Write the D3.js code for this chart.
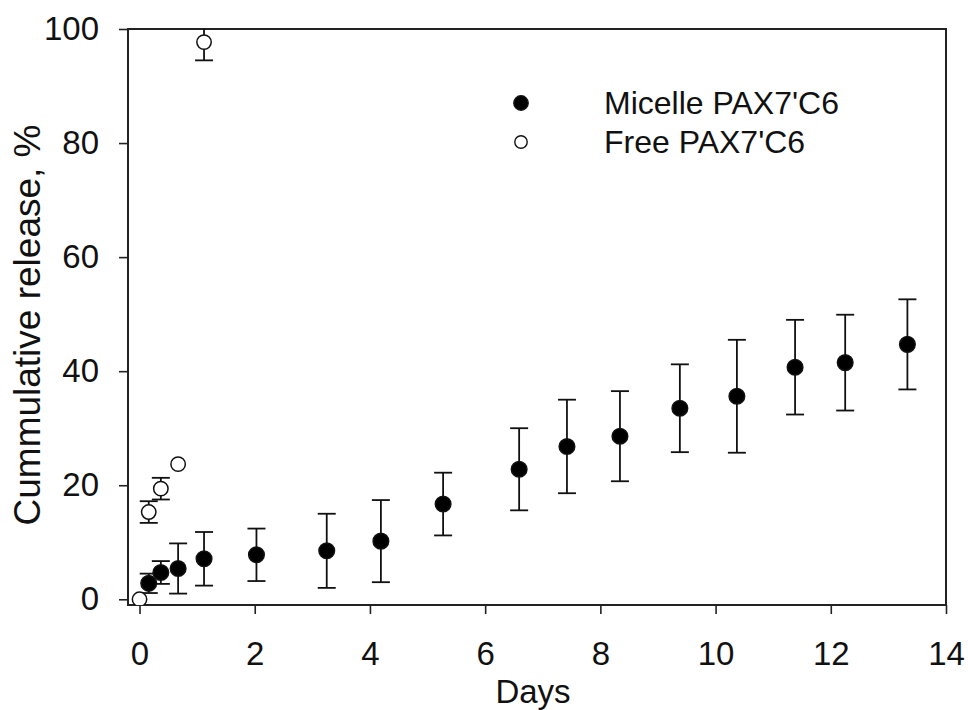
<!DOCTYPE html>
<html>
<head>
<meta charset="utf-8">
<script src="https://cdn.jsdelivr.net/npm/d3@7"></script>
<style>
  body { margin: 0; background: #fff; }
  text { font-family: "Liberation Sans", Arial, sans-serif; fill: #111; }
</style>
</head>
<body>
<svg id="chart" width="968" height="710"></svg>
<script>
// Micelle PAX7'C6 (filled)
const micelleDays = [0.16, 0.37, 0.67, 1.12, 2.03, 3.25, 4.19, 5.27, 6.59, 7.42, 8.34, 9.38, 10.37, 11.38, 12.25, 13.33];
const micelleRelease = [2.8, 4.7, 5.4, 7.1, 7.8, 8.5, 10.2, 16.7, 22.8, 26.8, 28.6, 33.5, 35.6, 40.7, 41.5, 44.7];
const micelleSd = [1.7, 2.0, 4.4, 4.7, 4.6, 6.5, 7.2, 5.5, 7.2, 8.2, 7.9, 7.7, 9.9, 8.3, 8.4, 7.9];

// Free PAX7'C6 (open)
const freeDays = [0, 0.16, 0.37, 0.67, 1.12];
const freeRelease = [0, 15.3, 19.4, 23.7, 97.7];
const freeSd = [0, 1.9, 1.9, 0, 3.2];

const xTicks = [0, 2, 4, 6, 8, 10, 12, 14];
const yTicks = [0, 20, 40, 60, 80, 100];

const series = [
  { name: "Micelle PAX7'C6", fill: "#000", days: micelleDays, vals: micelleRelease, sd: micelleSd },
  { name: "Free PAX7'C6", fill: "#fff", days: freeDays, vals: freeRelease, sd: freeSd }
];

const svg = d3.select("#chart");
const plotL = 128, plotR = 946, plotT = 29, plotB = 605;

const x = d3.scaleLinear().domain([-0.2, 14]).range([plotL, plotR]);
const y = d3.scaleLinear().domain([-1, 100]).range([plotB, plotT]);

svg.append("clipPath").attr("id", "plot-clip")
  .append("rect")
  .attr("x", plotL).attr("y", plotT)
  .attr("width", plotR - plotL).attr("height", plotB - plotT);

// axes
const xAxis = svg.append("g")
  .attr("transform", `translate(0,${plotB})`)
  .call(d3.axisBottom(x).tickValues(xTicks).tickSize(9).tickPadding(28).tickSizeOuter(0));
const yAxis = svg.append("g")
  .attr("transform", `translate(${plotL},0)`)
  .call(d3.axisLeft(y).tickValues(yTicks).tickSize(9).tickPadding(20).tickSizeOuter(0));

[xAxis, yAxis].forEach(a => {
  a.select(".domain").remove();
  a.selectAll(".tick line").attr("stroke", "#222").attr("stroke-width", 1.6);
  a.selectAll(".tick text")
    .style("font-family", "'Liberation Sans', Arial, sans-serif")
    .style("font-size", "33px")
    .attr("fill", "#111");
});

// frame
svg.append("rect")
  .attr("x", plotL).attr("y", plotT)
  .attr("width", plotR - plotL).attr("height", plotB - plotT)
  .attr("fill", "none").attr("stroke", "#222").attr("stroke-width", 2);

const plot = svg.append("g").attr("clip-path", "url(#plot-clip)");

// error bars (only where there is a spread)
series.forEach(s => {
  const pts = s.days.map((d, i) => ({ d, v: s.vals[i], sd: s.sd[i] })).filter(p => p.sd > 0);
  const g = plot.append("g").attr("stroke", "#111").attr("stroke-width", 1.8);
  g.selectAll(".eb").data(pts).enter().append("line")
    .attr("x1", p => x(p.d)).attr("x2", p => x(p.d))
    .attr("y1", p => y(p.v - p.sd)).attr("y2", p => y(p.v + p.sd));
  g.selectAll(".cap-hi").data(pts).enter().append("line")
    .attr("x1", p => x(p.d) - 9).attr("x2", p => x(p.d) + 9)
    .attr("y1", p => y(p.v + p.sd)).attr("y2", p => y(p.v + p.sd));
  g.selectAll(".cap-lo").data(pts).enter().append("line")
    .attr("x1", p => x(p.d) - 9).attr("x2", p => x(p.d) + 9)
    .attr("y1", p => y(p.v - p.sd)).attr("y2", p => y(p.v - p.sd));
});

// markers
series.forEach(s => {
  plot.append("g").selectAll("circle")
    .data(s.days.map((d, i) => ({ d, v: s.vals[i] })))
    .enter().append("circle")
    .attr("cx", p => x(p.d)).attr("cy", p => y(p.v))
    .attr("r", s.fill === "#000" ? 7.8 : 7.2)
    .attr("fill", s.fill)
    .attr("stroke", "#111").attr("stroke-width", 1.5);
});

// axis titles
svg.append("text")
  .attr("x", (plotL + plotR) / 2 - 4).attr("y", 703)
  .attr("text-anchor", "middle")
  .style("font-size", "33px")
  .text("Days");

svg.append("text")
  .attr("transform", "translate(40,325) rotate(-90)")
  .attr("text-anchor", "middle")
  .style("font-size", "37px")
  .text("Cummulative release, %");

// legend
const legend = svg.append("g");
series.forEach((s, i) => {
  const ly = 103 + i * 39;
  legend.append("circle")
    .attr("cx", 521).attr("cy", ly)
    .attr("r", s.fill === "#000" ? 7.2 : 6.2)
    .attr("fill", s.fill).attr("stroke", "#111").attr("stroke-width", 1.4);
  legend.append("text")
    .attr("x", 604).attr("y", ly)
    .attr("dominant-baseline", "central")
    .style("font-size", "32px")
    .text(s.name);
});
</script>
</body>
</html>
